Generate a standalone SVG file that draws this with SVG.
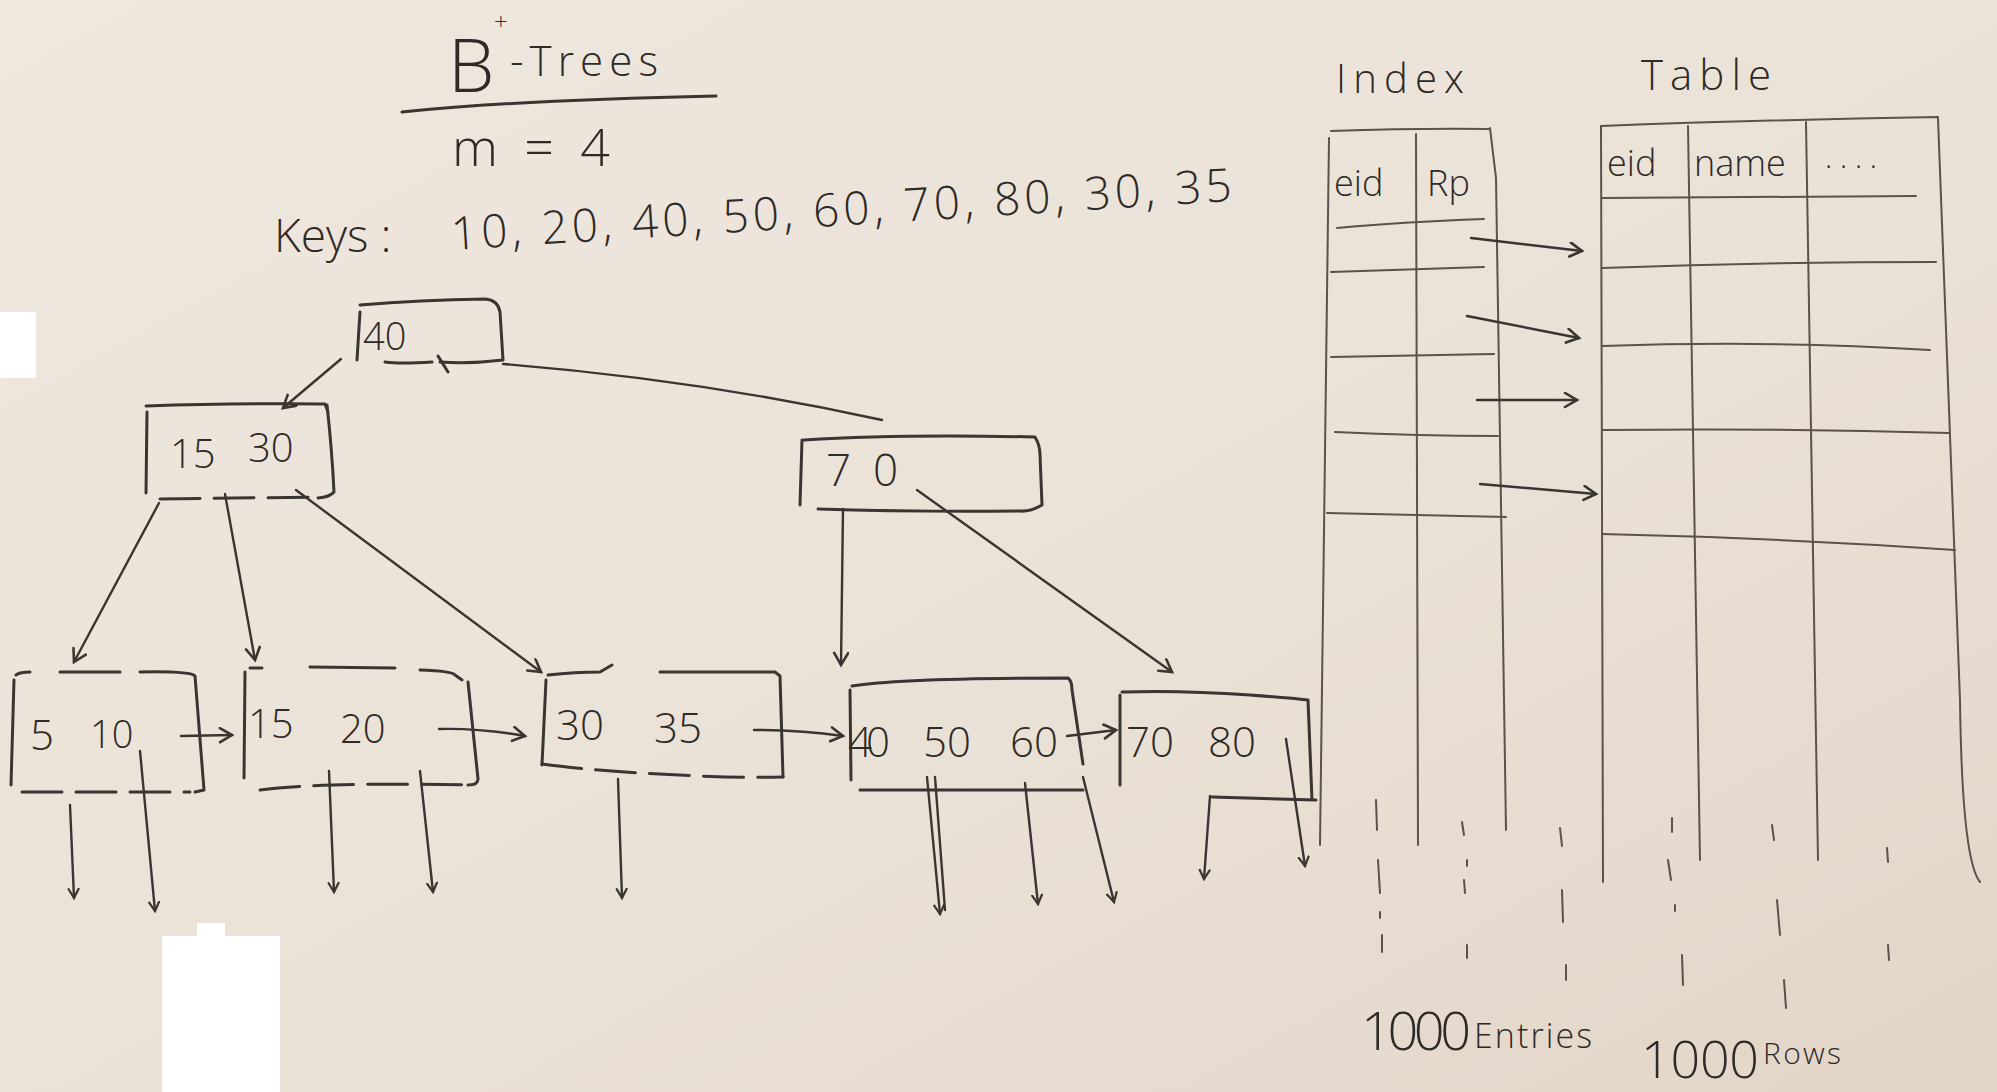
<svg xmlns="http://www.w3.org/2000/svg" width="1997" height="1092" viewBox="0 0 1997 1092">
<defs>
<linearGradient id="bg" x1="0" y1="0" x2="1" y2="1">
<stop offset="0" stop-color="#efe8df"/>
<stop offset="0.6" stop-color="#eae1d6"/>
<stop offset="1" stop-color="#e2d5c7"/>
</linearGradient>
<marker id="ah" markerWidth="20" markerHeight="20" refX="14" refY="8" orient="auto" markerUnits="userSpaceOnUse">
<path d="M2,1 L14,8 L2,15" fill="none" stroke="#3a3531" stroke-width="2.6" stroke-linecap="round"/>
</marker>
<marker id="ahs" markerWidth="16" markerHeight="16" refX="10" refY="6" orient="auto" markerUnits="userSpaceOnUse">
<path d="M1,1 L10,6 L1,11" fill="none" stroke="#3a3531" stroke-width="2.2" stroke-linecap="round"/>
</marker>
</defs>
<style>
.ink{fill:none;stroke:#3a3531;stroke-width:3;stroke-linecap:round;stroke-linejoin:round}
.thin{fill:none;stroke:#5a524b;stroke-width:2;stroke-linecap:round}
.con{fill:none;stroke:#3a3531;stroke-width:2.4;stroke-linecap:round}
.dash{stroke-dasharray:40 14}
.t{font-family:"Open Sans","DejaVu Sans",sans-serif;font-weight:300;fill:#2e2a27}
</style>
<rect width="1997" height="1092" fill="url(#bg)"/>
<rect x="0" y="312" width="36" height="66" fill="#ffffff"/>
<path d="M162,1092 L162,936 L197,936 L197,923 L225,923 L225,936 L280,936 L280,1092 Z" fill="#ffffff"/>

<g id="title">
<text class="t" x="448" y="92" font-size="74">B</text>
<text class="t" x="494" y="30" font-size="24">+</text>
<text class="t" x="510" y="76" font-size="42" textLength="148">-Trees</text>
<path class="ink" d="M402,112 Q520,100 716,96"/>
<text class="t" x="452" y="166" font-size="52" textLength="158">m = 4</text>
<text class="t" x="274" y="252" font-size="46">Keys :</text>
<text class="t" x="452" y="250" font-size="46" textLength="782" transform="rotate(-3.6 452 250)">10, 20, 40, 50, 60, 70, 80, 30, 35</text>
</g>

<g id="node-root">
<path class="ink" d="M360,312 L357,360 M360,305 Q420,300 485,299 Q498,300 500,312 L503,360 Q470,364 440,362 M432,362 Q400,364 385,362"/>
<text class="t" x="363" y="350" font-size="38">40</text>
<path class="ink" d="M438,356 L448,372"/>
</g>

<g id="node-15-30">
<path class="ink" d="M147,412 L146,493 M146,406 Q240,403 325,404 L328,412 M327,405 Q332,450 334,492 Q330,497 318,498"/>
<path class="ink dash" d="M160,499 L318,497"/>
<text class="t" x="170" y="468" font-size="40">15</text>
<text class="t" x="248" y="462" font-size="40">30</text>
</g>

<g id="node-70">
<path class="ink" d="M802,440 L800,505 M804,440 Q900,434 1035,437 Q1040,445 1040,455 L1042,505 Q1030,512 1020,511 Q910,512 818,509"/>
<text class="t" x="826" y="486" font-size="44" textLength="72">70</text>
</g>

<g id="leaf-5-10">
<path class="ink" d="M14,680 L11,785 M16,675 Q20,672 30,672 M60,672 L120,672 M140,672 Q190,671 195,676 L204,790 L195,792"/>
<path class="ink dash" d="M22,792 L190,792"/>
<text class="t" x="30" y="750" font-size="42">5</text>
<text class="t" x="90" y="748" font-size="38">10</text>
</g>

<g id="leaf-15-20">
<path class="ink" d="M245,672 L244,778 M250,668 L262,668 M310,667 L395,668 M420,670 Q452,671 455,675 L462,680 M468,682 L478,779 Q478,785 468,785"/>
<path class="ink dash" d="M260,790 Q320,782 470,785"/>
<text class="t" x="248" y="738" font-size="40">15</text>
<text class="t" x="340" y="743" font-size="40">20</text>
</g>

<g id="leaf-30-35">
<path class="ink" d="M546,680 L542,765 M548,675 Q575,672 600,672 L612,665 M660,672 L775,672 L780,676 L783,777"/>
<path class="ink dash" d="M542,764 Q600,772 700,776 Q750,778 783,777"/>
<text class="t" x="556" y="740" font-size="42">30</text>
<text class="t" x="654" y="743" font-size="42">35</text>
</g>

<g id="leaf-40-50-60">
<path class="ink" d="M850,690 L851,780 M852,686 Q900,678 1068,678 Q1072,681 1072,690 L1083,764 M860,790 Q950,790 1083,790"/>
<text class="t" x="848" y="757" font-size="42" textLength="42">40</text>
<text class="t" x="923" y="757" font-size="42">50</text>
<text class="t" x="1010" y="757" font-size="42">60</text>
</g>

<g id="leaf-70-80">
<path class="ink" d="M1120,695 L1120,785 M1122,692 Q1180,690 1250,695 Q1290,698 1308,700 L1312,800 M1212,797 L1316,800"/>
<text class="t" x="1126" y="757" font-size="42">70</text>
<text class="t" x="1208" y="757" font-size="42">80</text>
</g>

<g id="index-table">
<text class="t" x="1336" y="93" font-size="40" textLength="128">Index</text>
<path class="thin" d="M1331,131 Q1420,128 1490,129 M1329,138 L1320,845 M1416,134 L1418,845 M1490,128 L1496,178 L1506,830"/>
<text class="t" x="1334" y="196" font-size="36">eid</text>
<text class="t" x="1427" y="196" font-size="36">Rp</text>
<path class="thin" d="M1337,228 Q1400,222 1484,219 M1331,272 Q1400,270 1484,267 M1331,357 L1494,354 M1335,432 Q1420,436 1498,436 M1327,513 L1506,517"/>
</g>

<g id="table">
<text class="t" x="1641" y="90" font-size="42" textLength="130">Table</text>
<path class="thin" d="M1601,126 Q1760,120 1938,117 M1601,126 L1603,882 M1688,126 L1700,860 M1806,122 L1818,860 M1938,118 Q1945,300 1960,700 Q1962,860 1980,882"/>
<text class="t" x="1607" y="176" font-size="36">eid</text>
<text class="t" x="1694" y="176" font-size="36">name</text>
<text class="t" x="1825" y="168" font-size="30" fill="#6a625a">. . . .</text>
<path class="thin" d="M1602,198 L1916,196 M1602,268 Q1770,262 1936,262 M1602,346 Q1770,340 1930,350 M1602,430 Q1780,428 1949,433 M1602,534 Q1780,538 1955,550"/>
</g>

<g id="ticks">
<path class="thin" d="M1376,800 L1377,830 M1378,860 L1380,893 M1382,935 L1382,952 M1462,822 L1464,835 M1464,880 L1465,893 M1467,945 L1467,958 M1560,828 L1562,846 M1562,890 L1563,922 M1566,965 L1566,980 M1672,818 L1672,832 M1668,860 L1671,880 M1682,955 L1683,985 M1772,825 L1774,840 M1777,900 L1780,935 M1784,980 L1786,1008 M1887,848 L1888,862 M1888,945 L1889,960 M1380,912 L1380,918 M1467,860 L1467,866 M1675,905 L1675,911"/>
</g>

<g id="labels">
<text class="t" x="1361" y="1050" font-size="54" textLength="110">1000</text>
<text class="t" x="1474" y="1048" font-size="34" textLength="118">Entries</text>
<text class="t" x="1641" y="1078" font-size="52" textLength="118">1000</text>
<text class="t" x="1763" y="1064" font-size="30" textLength="78">Rows</text>
</g>

<g id="connectors">
<path class="con" d="M341,359 L283,408" marker-end="url(#ah)"/>
<path class="con" d="M503,364 Q700,380 882,420"/>
<path class="con" d="M159,503 L74,662" marker-end="url(#ah)"/>
<path class="con" d="M225,494 L255,660" marker-end="url(#ah)"/>
<path class="con" d="M296,490 L541,672" marker-end="url(#ah)"/>
<path class="con" d="M843,509 L841,665" marker-end="url(#ah)"/>
<path class="con" d="M917,490 L1172,672" marker-end="url(#ah)"/>
<path class="con" d="M181,736 L232,735" marker-end="url(#ah)"/>
<path class="con" d="M439,729 Q480,728 525,736" marker-end="url(#ah)"/>
<path class="con" d="M754,730 Q800,730 843,736" marker-end="url(#ah)"/>
<path class="con" d="M1067,736 L1116,730" marker-end="url(#ah)"/>
<path class="con" d="M70,805 L74,898" marker-end="url(#ahs)"/>
<path class="con" d="M140,751 L155,911" marker-end="url(#ahs)"/>
<path class="con" d="M329,771 L334,892" marker-end="url(#ahs)"/>
<path class="con" d="M420,771 L433,892" marker-end="url(#ahs)"/>
<path class="con" d="M618,779 L622,898" marker-end="url(#ahs)"/>
<path class="con" d="M927,777 L940,914" marker-end="url(#ahs)"/>
<path class="con" d="M935,777 L945,910"/>
<path class="con" d="M1025,783 L1038,904" marker-end="url(#ahs)"/>
<path class="con" d="M1083,777 L1114,902" marker-end="url(#ahs)"/>
<path class="con" d="M1210,796 L1204,879" marker-end="url(#ahs)"/>
<path class="con" d="M1286,739 L1305,866" marker-end="url(#ahs)"/>
<path class="con" d="M1471,238 L1582,251" marker-end="url(#ah)"/>
<path class="con" d="M1467,316 L1579,338" marker-end="url(#ah)"/>
<path class="con" d="M1477,400 L1577,400" marker-end="url(#ah)"/>
<path class="con" d="M1480,484 L1596,494" marker-end="url(#ah)"/>
</g>
</svg>
